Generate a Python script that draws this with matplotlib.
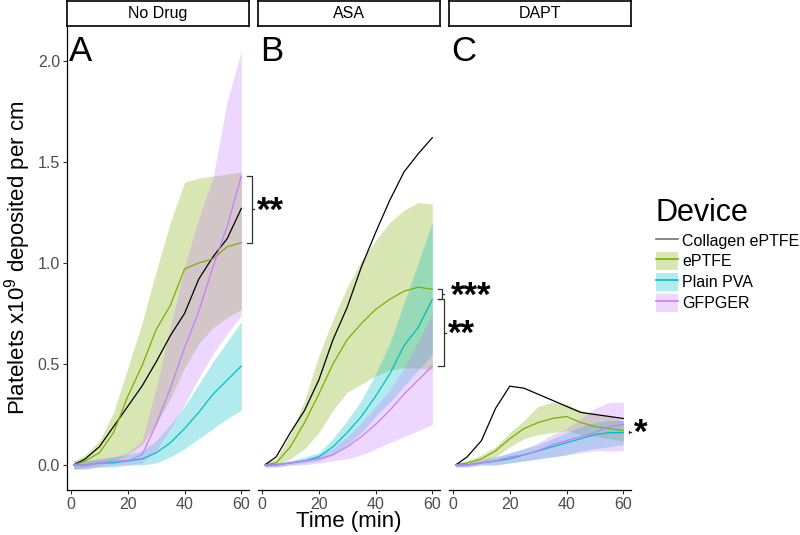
import matplotlib
matplotlib.use("Agg")
import matplotlib.pyplot as plt
from matplotlib.patches import Patch
from matplotlib.lines import Line2D

plt.rcParams["font.family"] = ["Liberation Sans", "DejaVu Sans"]
plt.rcParams["mathtext.fontset"] = "custom"
plt.rcParams["mathtext.rm"] = "Liberation Sans"
plt.rcParams["mathtext.it"] = "Liberation Sans"

# ---- data (every 5 min) ----
time_min = [1, 5, 10, 15, 20, 25, 30, 35, 40, 45, 50, 55, 60]

panels = ["No Drug", "ASA", "DAPT"]
panel_letters = ["A", "B", "C"]
devices = ["Collagen ePTFE", "ePTFE", "Plain PVA", "GFPGER"]
colors = ["black", "#7CAE00", "#00BFC4", "#C77CFF"]

# No Drug
nodrug_collagen = [0.00, 0.03, 0.09, 0.19, 0.29, 0.39, 0.51, 0.64, 0.75, 0.92, 1.03, 1.12, 1.27]
nodrug_eptfe = [0.00, 0.02, 0.06, 0.16, 0.34, 0.49, 0.67, 0.79, 0.97, 1.00, 1.02, 1.08, 1.10]
nodrug_eptfe_lo = [-0.02, -0.01, 0.00, 0.02, 0.05, 0.10, 0.20, 0.33, 0.48, 0.60, 0.68, 0.73, 0.77]
nodrug_eptfe_hi = [0.02, 0.05, 0.12, 0.26, 0.48, 0.70, 0.96, 1.20, 1.40, 1.42, 1.43, 1.44, 1.45]
nodrug_pva = [0.00, 0.00, 0.01, 0.01, 0.02, 0.03, 0.06, 0.11, 0.18, 0.26, 0.35, 0.42, 0.49]
nodrug_pva_lo = [-0.02, -0.02, -0.01, -0.01, 0.00, 0.00, 0.01, 0.04, 0.08, 0.13, 0.18, 0.23, 0.27]
nodrug_pva_hi = [0.02, 0.02, 0.03, 0.04, 0.05, 0.07, 0.12, 0.20, 0.29, 0.40, 0.51, 0.61, 0.71]
nodrug_gfpger = [0.00, 0.00, 0.01, 0.02, 0.02, 0.05, 0.20, 0.38, 0.58, 0.76, 0.98, 1.18, 1.43]
nodrug_gfpger_lo = [-0.02, -0.02, -0.01, 0.00, 0.00, 0.01, 0.07, 0.18, 0.30, 0.43, 0.55, 0.65, 0.74]
nodrug_gfpger_hi = [0.02, 0.02, 0.03, 0.04, 0.06, 0.12, 0.38, 0.68, 0.98, 1.22, 1.42, 1.80, 2.05]

# ASA
asa_collagen = [0.00, 0.04, 0.16, 0.27, 0.42, 0.62, 0.78, 0.98, 1.15, 1.31, 1.45, 1.54, 1.62]
asa_eptfe = [0.00, 0.01, 0.09, 0.21, 0.35, 0.50, 0.62, 0.70, 0.77, 0.82, 0.86, 0.88, 0.87]
asa_eptfe_lo = [-0.01, 0.00, 0.03, 0.08, 0.16, 0.27, 0.36, 0.40, 0.44, 0.47, 0.48, 0.48, 0.47]
asa_eptfe_hi = [0.01, 0.03, 0.15, 0.32, 0.54, 0.72, 0.88, 1.01, 1.11, 1.20, 1.26, 1.30, 1.29]
asa_pva = [0.00, 0.00, 0.01, 0.02, 0.04, 0.09, 0.16, 0.24, 0.34, 0.45, 0.59, 0.68, 0.82]
asa_pva_lo = [-0.01, -0.01, 0.00, 0.01, 0.02, 0.05, 0.10, 0.16, 0.24, 0.31, 0.39, 0.47, 0.55]
asa_pva_hi = [0.01, 0.01, 0.02, 0.04, 0.06, 0.13, 0.22, 0.32, 0.45, 0.60, 0.80, 1.00, 1.20]
asa_gfpger = [0.00, 0.00, 0.01, 0.02, 0.03, 0.05, 0.09, 0.14, 0.20, 0.27, 0.35, 0.42, 0.49]
asa_gfpger_lo = [-0.01, -0.01, 0.00, 0.00, 0.01, 0.02, 0.03, 0.05, 0.08, 0.11, 0.14, 0.17, 0.20]
asa_gfpger_hi = [0.01, 0.01, 0.02, 0.03, 0.05, 0.08, 0.14, 0.21, 0.29, 0.37, 0.48, 0.61, 0.75]

# DAPT
dapt_collagen = [0.00, 0.04, 0.12, 0.28, 0.39, 0.38, 0.35, 0.32, 0.29, 0.26, 0.25, 0.24, 0.23]
dapt_eptfe = [0.00, 0.01, 0.03, 0.07, 0.13, 0.18, 0.21, 0.23, 0.24, 0.21, 0.19, 0.18, 0.17]
dapt_eptfe_lo = [-0.01, 0.00, 0.01, 0.04, 0.09, 0.13, 0.15, 0.16, 0.17, 0.15, 0.14, 0.13, 0.12]
dapt_eptfe_hi = [0.01, 0.02, 0.05, 0.09, 0.16, 0.22, 0.29, 0.31, 0.30, 0.27, 0.25, 0.24, 0.22]
dapt_pva = [0.00, 0.00, 0.01, 0.02, 0.03, 0.05, 0.07, 0.09, 0.11, 0.13, 0.15, 0.16, 0.16]
dapt_pva_lo = [-0.01, -0.01, 0.00, 0.00, 0.01, 0.02, 0.03, 0.04, 0.05, 0.07, 0.08, 0.09, 0.10]
dapt_pva_hi = [0.01, 0.01, 0.02, 0.04, 0.06, 0.08, 0.10, 0.13, 0.16, 0.19, 0.21, 0.22, 0.22]
dapt_gfpger = [0.00, 0.00, 0.01, 0.02, 0.04, 0.05, 0.07, 0.10, 0.12, 0.14, 0.16, 0.19, 0.20]
dapt_gfpger_lo = [-0.01, -0.01, 0.00, 0.00, 0.01, 0.02, 0.03, 0.04, 0.05, 0.06, 0.07, 0.07, 0.07]
dapt_gfpger_hi = [0.01, 0.01, 0.03, 0.04, 0.06, 0.08, 0.11, 0.15, 0.18, 0.23, 0.28, 0.31, 0.31]

# significance brackets between end values of two devices
comparisons = [
    [("GFPGER", "ePTFE", "**")],
    [("ePTFE", "Plain PVA", "***"), ("Plain PVA", "GFPGER", "**")],
    [("ePTFE", "Plain PVA", "*")],
]

data = [
    {"Collagen ePTFE": (nodrug_collagen, None, None),
     "ePTFE": (nodrug_eptfe, nodrug_eptfe_lo, nodrug_eptfe_hi),
     "Plain PVA": (nodrug_pva, nodrug_pva_lo, nodrug_pva_hi),
     "GFPGER": (nodrug_gfpger, nodrug_gfpger_lo, nodrug_gfpger_hi)},
    {"Collagen ePTFE": (asa_collagen, None, None),
     "ePTFE": (asa_eptfe, asa_eptfe_lo, asa_eptfe_hi),
     "Plain PVA": (asa_pva, asa_pva_lo, asa_pva_hi),
     "GFPGER": (asa_gfpger, asa_gfpger_lo, asa_gfpger_hi)},
    {"Collagen ePTFE": (dapt_collagen, None, None),
     "ePTFE": (dapt_eptfe, dapt_eptfe_lo, dapt_eptfe_hi),
     "Plain PVA": (dapt_pva, dapt_pva_lo, dapt_pva_hi),
     "GFPGER": (dapt_gfpger, dapt_gfpger_lo, dapt_gfpger_hi)},
]

# ---- layout (pixels of an 800x535 canvas) ----
W, H = 800, 535
panel_left = [67, 258, 449]
panel_w = 182
panel_top, panel_bottom = 27, 490
bracket_x = [[63.8], [63.3, 64.1], [62.1]]
label_x = [[65.6], [66.4, 65.4], [63.8]]

fig = plt.figure(figsize=(W / 100, H / 100), dpi=100)
grey_txt = "#4D4D4D"

for i, name in enumerate(panels):
    l = panel_left[i]
    ax = fig.add_axes([l / W, (H - panel_bottom) / H, panel_w / W, (panel_bottom - panel_top) / H])
    ax.set_xlim(-1.4, 62.7)
    ax.set_ylim(-0.124, 2.168)
    ax.set_facecolor("none")
    for s in ["top", "right"]:
        ax.spines[s].set_visible(False)
    ax.spines["bottom"].set_linewidth(0.9)
    ax.spines["left"].set_linewidth(0.9)
    ax.set_xticks([0, 20, 40, 60])
    ax.tick_params(axis="both", length=3, width=0.8, color="#333333",
                   labelsize=11.5, labelcolor=grey_txt, pad=2)
    if i == 0:
        ax.set_yticks([0.0, 0.5, 1.0, 1.5, 2.0])
        ax.set_yticklabels(["0.0", "0.5", "1.0", "1.5", "2.0"])
    else:
        ax.spines["left"].set_visible(False)
        ax.set_yticks([])

    series = data[i]
    for dev, c in zip(devices, colors):
        mean, lo, hi = series[dev]
        if lo is not None:
            ax.fill_between(time_min, lo, hi, color=c, alpha=0.3, lw=0)
    for dev, c in zip(devices, colors):
        mean, lo, hi = series[dev]
        ax.plot(time_min, mean, color=c, lw=0.9)

    ax.text(-0.6, 2.0, panel_letters[i], fontsize=25, ha="left", va="baseline")

    for j, (a, b, lab) in enumerate(comparisons[i]):
        ya = series[a][0][-1]
        yb = series[b][0][-1]
        bx = bracket_x[i][j]
        ym = (ya + yb) / 2
        ax.plot([61.9, bx, bx, 61.9], [ya, ya, yb, yb], color="#333333", lw=0.9,
                clip_on=False)
        ax.plot([bx, bx + 0.7], [ym, ym], color="#333333", lw=0.9, clip_on=False)
        ax.annotate(lab, xy=(label_x[i][j], ym), xytext=(0, -8), textcoords="offset points",
                    fontsize=25, fontweight="bold", ha="left", va="baseline",
                    annotation_clip=False)

    sax = fig.add_axes([l / W, (H - 26) / H, panel_w / W, 25 / H])
    sax.set_xticks([])
    sax.set_yticks([])
    for s in sax.spines.values():
        s.set_linewidth(1.2)
    sax.text(0.5, 0.5, name, ha="center", va="center", fontsize=11.5, transform=sax.transAxes)

fig.text(18 / W, 1 - 258 / H, "Platelets x10$^{9}$ deposited per cm", rotation=90,
         ha="center", va="center", fontsize=16)
fig.text(349 / W, 1 - 522 / H, "Time (min)", ha="center", va="center", fontsize=16)

handles = [Line2D([], [], color="black", alpha=0.55, lw=1.2)]
for c in colors[1:]:
    handles.append((Patch(facecolor=c, alpha=0.3, edgecolor="none"),
                    Line2D([], [], color=c, lw=1.2)))
fig.legend(handles, devices, title="Device", loc="upper left",
           bbox_to_anchor=(648 / W, 1 - 190 / H), frameon=False, fontsize=11.5,
           title_fontsize=22, handlelength=1.35, handleheight=1.3, labelspacing=0.22,
           handletextpad=0.3, borderpad=0, alignment="left")

fig.savefig("out.png", dpi=100)
